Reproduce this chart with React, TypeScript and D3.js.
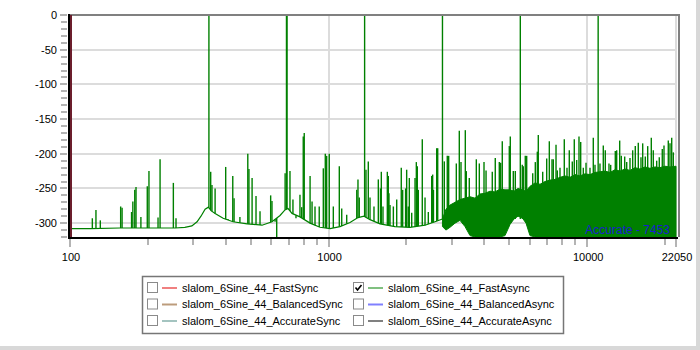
import React from 'react';
import * as d3 from 'd3';

const W = 700;
const H = 350;

const yTickValues = [0, -50, -100, -150, -200, -250, -300];
const yMinorValues = [-10, -20, -30, -40, -60, -70, -80, -90, -110, -120, -130, -140, -160, -170, -180, -190, -210, -220, -230, -240, -260, -270, -280, -290, -310, -320];
const xTickLabels = [100, 1000, 10000, 22050];
const xMinorTicks = [200, 300, 400, 500, 600, 700, 800, 900, 2000, 3000, 4000, 5000, 6000, 7000, 8000, 9000, 20000];

const toneFreq = [344.5, 689.1, 1378.1, 2756.3, 5512.5, 11025];
const toneDb = [0, 0, 0, 0, 0, 0];

const floorFreq = [100, 120, 156, 204, 255, 278, 296, 310, 321, 333, 343, 351, 364, 391, 427, 484, 553, 604, 649, 678, 697, 722, 775, 848, 926, 1013, 1107, 1210, 1299, 1371, 1446, 1581, 1806, 2064, 2360, 2579, 2756];
const floorDb = [-308, -308, -307, -307, -307, -306, -304, -298, -290, -280, -277, -282, -286, -293, -298, -301, -303, -298, -289, -281, -279, -286, -291, -300, -306, -308, -305, -299, -292, -290, -295, -301, -305, -306, -303, -298, -294];

const spikeFreq = [101, 122, 126, 131, 157, 159, 173, 175, 178, 180, 188, 199, 202, 219, 223, 251, 257,
  350, 354, 364, 400, 408, 426, 431, 454, 487, 492, 506, 524, 543, 597, 604, 621, 630, 679, 709, 728, 748, 775, 787, 798, 805, 848, 863, 886, 920, 954, 971, 983, 1006, 1043, 1100, 1124, 1175, 1285, 1299, 1314,
  1395, 1424, 1446, 1498, 1557, 1587, 1599, 1623, 1687, 1702, 1712, 1728, 1780, 1834, 1910, 1934, 1985, 2004, 2033, 2052, 2096, 2159, 2184, 2203, 2223, 2303, 2360, 2430, 2504, 2526, 2544, 2618, 2642,
  2802, 2877, 2913, 3118, 3202, 3251, 3378, 3408, 3500, 3726, 3827, 3990, 4063, 4295, 4411, 4572, 4629, 4695, 4998, 5042, 5179, 5272,
  5610, 5661, 5762, 5835, 6157, 6300, 6414, 6470, 6729, 6973, 7137, 7310, 7395, 7576, 7663, 7849, 8155, 8353, 8526, 8757, 8914, 9107, 9296, 9438, 9659, 9895, 10252, 10558, 10720,
  11206, 11541, 11749, 12141, 12327, 12843, 13003, 13355, 13548, 13964, 14217, 14639, 14994, 15346, 15761, 16143, 16390, 16775, 17138, 17696, 18013, 18567, 19000, 19514, 19815, 20587, 20903, 21223, 21530];
const spikeDb = [-231, -293, -281, -296, -276, -278, -284, -269, -252, -248, -291, -247, -225, -292, -208, -242, -293,
  -226, -245, -250, -219, -294, -232, -264, -291, -200, -222, -235, -261, -283, -260, -268, -298, -320, -228, -225, -266, -293, -259, -277, -175, -170, -232, -269, -276, -276, -221, -200, -203, -200, -276, -218, -279, -288, -252, -237, -263,
  -223, -211, -263, -276, -237, -250, -226, -276, -226, -232, -257, -274, -276, -266, -220, -252, -250, -223, -276, -235, -285, -235, -212, -218, -252, -179, -263, -284, -232, -230, -252, -192, -192,
  -211, -203, -203, -214, -167, -212, -166, -225, -235, -208, -214, -212, -224, -226, -206, -212, -213, -182, -189, -175, -225, -225,
  -216, -218, -203, -203, -228, -212, -197, -173, -226, -207, -182, -208, -208, -187, -224, -220, -179, -220, -195, -211, -179, -209, -175, -183, -220, -213, -220, -177, -216,
  -214, -188, -195, -214, -216, -196, -195, -181, -203, -204, -212, -206, -195, -189, -184, -205, -185, -204, -189, -177, -195, -210, -205, -193, -188, -181, -185, -177, -198];

const denseFreq = [2756, 2844, 2948, 3083, 3222, 3369, 3523, 3683, 3850, 4025, 4209, 4400, 4600, 4810, 5029, 5212, 5402, 5598, 5800, 6009, 6284, 6570, 6868, 7180, 7509, 7851, 8209, 8581, 8971, 9380, 9806, 10252, 10720, 11206, 11716, 12250, 12809, 13391, 14001, 14639, 15303, 16000, 16729, 17490, 18290, 19120, 19990, 20900, 22050];
const denseTop = [-294, -280, -274, -270, -266, -264, -262, -264, -258, -257, -254, -255, -251, -252, -252, -254, -250, -252, -254, -247, -242, -244, -240, -238, -237, -234, -232, -234, -230, -232, -229, -230, -227, -226, -225, -227, -223, -225, -222, -224, -220, -222, -219, -221, -219, -220, -218, -219, -218];
const denseBottom = [-305, -310, -306, -300, -296, -305, -318, -320, -320, -320, -320, -320, -320, -318, -302, -294, -290, -292, -300, -318, -320, -320, -320, -320, -320, -320, -320, -320, -320, -320, -320, -320, -320, -320, -320, -320, -320, -320, -320, -320, -320, -320, -320, -320, -320, -320, -320, -320, -320];

const legendNames = ['slalom_6Sine_44_FastSync', 'slalom_6Sine_44_BalancedSync', 'slalom_6Sine_44_AccurateSync', 'slalom_6Sine_44_FastAsync', 'slalom_6Sine_44_BalancedAsync', 'slalom_6Sine_44_AccurateAsync'];
const legendColors = ['#f08080', '#bc9c7c', '#a4c4c0', '#80c080', '#8080ff', '#808080'];
const legendChecked = [false, false, false, true, false, false];

const FONT = '"Liberation Sans", Arial, sans-serif';
const GREEN = '#008000';

export default function App() {
  const left = 70, right = 676, top = 15, bottom = 237;
  const x = d3.scaleLog().domain([100, 22050]).range([left, right]);
  const y = d3.scaleLinear().domain([-320, 0]).range([bottom, top]);
  const floorScale = d3.scaleLog().domain(floorFreq).range(floorDb).clamp(true);

  const floorLine = d3.line<number>().x((_, i) => x(floorFreq[i])).y((_, i) => y(floorDb[i]))(floorFreq) || '';
  const denseArea = d3.area<number>()
    .x((_, i) => x(denseFreq[i]))
    .y0((_, i) => y(denseBottom[i]))
    .y1((_, i) => y(denseTop[i]))(denseFreq) || '';

  const gridColor = '#dcdcdc';
  const tickColor = '#b4b4b4';

  return (
    <svg width={W} height={H} style={{ position: 'absolute', left: 0, top: 0, background: '#fff' }} fontFamily={FONT}>
      <rect x={0} y={0} width={W} height={H} fill="#fff" />
      <rect x={696} y={0} width={4} height={H} fill="#d8d8d8" />
      <rect x={0} y={346} width={W} height={4} fill="#d8d8d8" />

      {yTickValues.filter(v => v !== 0).map(v => (
        <line key={'hg' + v} x1={left} x2={right + 1} y1={Math.round(y(v))} y2={Math.round(y(v))} stroke={gridColor} strokeWidth={2} />
      ))}
      {xTickLabels.map(v => (
        <line key={'vg' + v} x1={Math.round(x(v))} x2={Math.round(x(v))} y1={top} y2={bottom} stroke={gridColor} strokeWidth={2} />
      ))}

      {yMinorValues.map(v => (
        <line key={'ym' + v} x1={61} x2={67} y1={Math.round(y(v))} y2={Math.round(y(v))} stroke={tickColor} strokeWidth={2} />
      ))}
      {yTickValues.map(v => (
        <g key={'yt' + v}>
          <line x1={60} x2={67} y1={Math.round(y(v))} y2={Math.round(y(v))} stroke={tickColor} strokeWidth={2} />
          <text x={57} y={y(v)} dy="0.35em" textAnchor="end" fontSize={11} fill="#000">{v}</text>
        </g>
      ))}

      {xMinorTicks.map(v => (
        <line key={'xm' + v} x1={Math.round(x(v))} x2={Math.round(x(v))} y1={239} y2={245} stroke={tickColor} strokeWidth={2} />
      ))}
      {xTickLabels.map(v => (
        <g key={'xt' + v}>
          <line x1={Math.round(x(v))} x2={Math.round(x(v))} y1={239} y2={247} stroke={tickColor} strokeWidth={2} />
          <text x={x(v) + 1} y={261} textAnchor="middle" fontSize={11} fill="#000">{v}</text>
        </g>
      ))}

      <path d={denseArea} fill={GREEN} stroke={GREEN} strokeWidth={1} />
      <path d={floorLine} fill="none" stroke={GREEN} strokeWidth={1.2} />
      {spikeFreq.map((f, i) => (
        <line key={'sp' + i} x1={x(f)} x2={x(f)} y1={y(floorScale(f))} y2={y(spikeDb[i])} stroke={GREEN} strokeWidth={1.4} />
      ))}
      {toneFreq.map((f, i) => (
        <line key={'tn' + i} x1={x(f)} x2={x(f)} y1={y(floorScale(f))} y2={y(toneDb[i])} stroke={GREEN} strokeWidth={i === 1 ? 2 : 1.4} />
      ))}

      <line x1={left - 1} x2={679} y1={top} y2={top} stroke="#808080" strokeWidth={2} />
      <line x1={679} x2={679} y1={top - 1} y2={bottom} stroke="#808080" strokeWidth={2} />
      <line x1={69} x2={69} y1={top - 1} y2={bottom + 2} stroke="#000" strokeWidth={2} />
      <line x1={71} x2={71} y1={top} y2={bottom} stroke="#6b1e2c" strokeWidth={2} />
      <line x1={68} x2={678} y1={238} y2={238} stroke="#000" strokeWidth={2} />

      <text x={670} y={234} textAnchor="end" fontSize={12} fill="#1a1ad0">Accurate - 7453</text>

      <rect x={142.5} y={276.5} width={421} height={57} fill="#fff" stroke="#767676" strokeWidth={1.5} />
      {legendNames.map((name, i) => {
        const col = Math.floor(i / 3);
        const row = i % 3;
        const bx = col === 0 ? 147 : 353;
        const cy = 288 + row * 16.5;
        return (
          <g key={'lg' + i}>
            <rect x={bx + 0.5} y={cy - 5.5} width={10} height={10} fill="#fff" stroke="#8a8a8a" strokeWidth={1} />
            {legendChecked[i] && (
              <path d={`M${bx + 2.5},${cy - 0.5} L${bx + 4.5},${cy + 2} L${bx + 8.5},${cy - 3}`} fill="none" stroke="#000" strokeWidth={1.6} />
            )}
            <line x1={bx + 15} x2={bx + 30} y1={cy} y2={cy} stroke={legendColors[i]} strokeWidth={2} />
            <text x={bx + 35} y={cy} dy="0.35em" fontSize={11} fill="#000">{name}</text>
          </g>
        );
      })}
    </svg>
  );
}
